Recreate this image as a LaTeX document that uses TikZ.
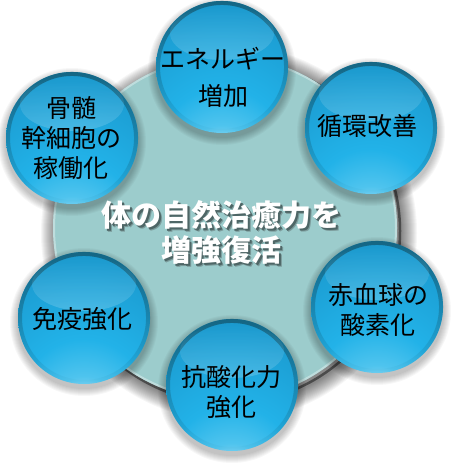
\documentclass[tikz,border=0pt]{standalone}
\usepackage{fontspec}
\setmainfont{Noto Sans CJK JP}
\usetikzlibrary{fadings,calc}
\definecolor{disk}{HTML}{9CCCCC}
\definecolor{s0}{HTML}{EEF9FE}
\definecolor{s1}{HTML}{BDE8F8}
\definecolor{s2}{HTML}{4FC4EE}
\definecolor{s3}{HTML}{22B2E8}
\definecolor{s4}{HTML}{1B9BD0}
\definecolor{s5}{HTML}{1A88B6}
\definecolor{s6}{HTML}{1A7BA3}
\definecolor{s7}{HTML}{196E8E}
\definecolor{s8}{HTML}{155F7A}
\definecolor{s9}{HTML}{0F5068}
\definecolor{rim}{HTML}{145E78}
\definecolor{shA}{HTML}{7C9C9C}
\definecolor{shB}{HTML}{4E6666}
\pgfdeclareradialshading{ballshade}{\pgfpoint{0bp}{-42bp}}{color(0bp)=(s0); color(6bp)=(s1); color(14bp)=(s2); color(24bp)=(s3); color(45bp)=(s4); color(60bp)=(s5); color(72bp)=(s6); color(82bp)=(s7); color(88bp)=(s8); color(100bp)=(s9)}
\tikzfading[name=rimfade, top color=transparent!0, middle color=transparent!75, bottom color=transparent!100]
\newcommand\shline[1]{\makebox[0pt][l]{\hspace{3.5pt}\raisebox{-3.5pt}{\textcolor{shA}{#1}}}\makebox[0pt][l]{\hspace{2pt}\raisebox{-2pt}{\textcolor{shB}{#1}}}#1}
\begin{document}
\begin{tikzpicture}[x=1pt,y=-1pt,
  balltext/.style={font=\fontsize{25}{30}\selectfont, text=black, align=center, inner sep=0pt},
  titletext/.style={font=\bfseries\fontsize{30}{35}\selectfont, align=center, inner sep=0pt},
  ball/.style={circle, minimum size=132pt, inner sep=0pt, shading=ballshade},
  ballshadow/.style={fill=black, opacity=0.03},
  ballrim/.style={draw=rim, line width=4pt, opacity=0.85, path fading=rimfade},
  gloss/.style={fill=white, opacity=0.18, path fading=north}]
\useasboundingbox (0,0) rectangle (475,476);
\fill[white] (0,0) rectangle (475,476);
% central disk shadow
\foreach \k in {1,...,16} \fill[black, opacity=0.035] (229,233) circle[radius=172+\k];
\draw[black, opacity=0.45, line width=2.5pt] (228,231) circle[radius=172];
\node[circle, minimum size=344pt, inner sep=0pt, fill=disk] (core) at (225,228) {};
\draw[white, opacity=0.35, line width=2pt] (core.center) circle[radius=171];
% spheres
\foreach \n/\cx/\cy in {b1/222/67, b2/371/128, b3/377/307, b4/232/385, b5/84/318, b6/72/138}{
  \foreach \k in {1,...,8} \fill[ballshadow] (\cx,\cy+4) circle[radius=66+\k];
  \node[ball] (\n) at (\cx,\cy) {};
  \draw[ballrim] (\n.center) circle[radius=64];
  \fill[gloss] ($(\n.center)+(0,-34)$) ellipse[x radius=52, y radius=27];
}
% sphere texts
\node[balltext] (t1) at ($(b1.center)+(1,10)$) {エネルギー\\[7pt]増加};
\node[balltext] (t2) at ($(b2.center)+(-4,-2)$) {循環改善};
\node[balltext] (t3) at ($(b3.center)+(1,3)$) {赤血球の\\酸素化};
\node[balltext] (t4) at ($(b4.center)+(-1,7)$) {抗酸化力\\強化};
\node[balltext] (t5) at ($(b5.center)+(-2,1)$) {免疫強化};
\node[balltext] (t6) at ($(b6.center)+(-1,0)$) {骨髄\\幹細胞の\\稼働化};
% title with drop shadow
\node[titletext, text=white] (title) at (221,234) {\shline{体の自然治癒力を}\\\shline{増強復活}};
\end{tikzpicture}
\end{document}
